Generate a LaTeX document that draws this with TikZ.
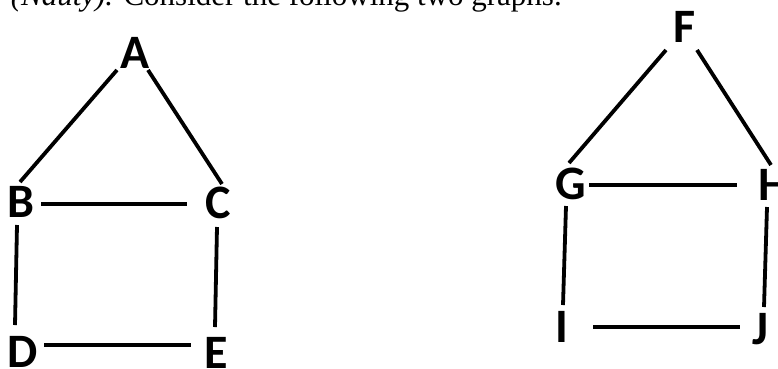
\documentclass[tikz,border=0pt]{standalone}
\usepackage{fontspec}
\setmainfont{Liberation Serif}
\newfontfamily\lettersfont{Carlito}
\usetikzlibrary{calc}
\begin{document}
\begin{tikzpicture}[x=1pt,y=-1pt,
  vtx/.style={font=\lettersfont\bfseries\fontsize{48}{48}\selectfont, inner sep=0pt, anchor=base},
  edge/.style={line width=3.8pt, black},
  toptext/.style={font=\fontsize{31}{31}\selectfont, inner sep=0pt, anchor=base east}]
\useasboundingbox (0,0) rectangle (778,368);
\clip (0,0) rectangle (778,368);
\node[toptext] (t) at (562,5) {\textbf{Exercises.} \textit{(Nauty).} Consider the following two graphs.};
% left graph
\node[vtx] (A) at (135,68) {A};
\node[vtx] (B) at (21,217) {B};
\node[vtx] (C) at (218,218) {C};
\node[vtx] (D) at (23,367) {D};
\node[vtx] (E) at (216,368) {E};
% right graph
\node[vtx] (F) at (685,42) {F};
\node[vtx] (G) at (571,199) {G};
\node[vtx] (H) at (774,200) {H};
\node[vtx] (I) at (562,342) {I};
\node[vtx] (J) at (760,344) {J};
% left edges
\draw[edge] ($(A.base)+(-18,2)$) -- ($(B.base)+(-1,-35)$);
\draw[edge] ($(A.base)+(13,2)$) -- ($(C.base)+(4,-34)$);
\draw[edge] ($(B.base)+(20,-13)$) -- ($(C.base)+(-31,-14)$);
\draw[edge] ($(B.base)+(-4,8)$) -- ($(D.base)+(-8,-42)$);
\draw[edge] ($(C.base)+(-1,9)$) -- ($(E.base)+(-1,-41)$);
\draw[edge] ($(D.base)+(21,-22)$) -- ($(E.base)+(-25,-23)$);
% right edges
\draw[edge] ($(F.base)+(-19,8)$) -- ($(G.base)+(-2,-36)$);
\draw[edge] ($(F.base)+(12,8)$) -- ($(H.base)+(-3,-35)$);
\draw[edge] ($(G.base)+(18,-14)$) -- ($(H.base)+(-37,-15)$);
\draw[edge] ($(G.base)+(-5,7)$) -- ($(I.base)+(1,-37)$);
\draw[edge] ($(H.base)+(-7,7)$) -- ($(J.base)+(4,-37)$);
\draw[edge] ($(I.base)+(31,-15)$) -- ($(J.base)+(-20,-17)$);
\end{tikzpicture}
\end{document}
